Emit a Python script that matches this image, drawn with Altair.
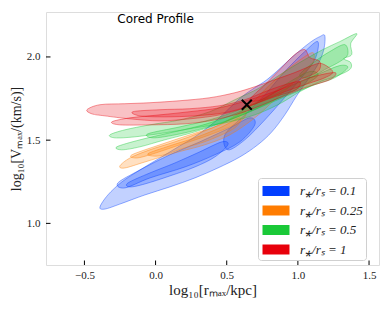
import altair as alt
import pandas as pd

SERIES = ["r⁎/rₛ = 0.1", "r⁎/rₛ = 0.25", "r⁎/rₛ = 0.5", "r⁎/rₛ = 1"]
COLORS = ["#023eff", "#ff7c00", "#1ac938", "#e8000b"]

X_TICKS = [-0.5, 0.0, 0.5, 1.0, 1.5]
Y_TICKS = [1.0, 1.5, 2.0]

# ---- blue (r*/rs = 0.1) contours
BLUE_A_X = [-0.391, -0.335, -0.237, -0.110, 0.030, 0.171, 0.276, 0.416, 0.522, 0.606, 0.697, 0.782, 0.873, 0.964, 1.084, 1.154, 1.189,
            1.182, 1.140, 1.070, 0.992, 0.908, 0.817, 0.718, 0.592, 0.438, 0.276, 0.100, -0.075, -0.251, -0.356]
BLUE_A_Y = [1.098, 1.171, 1.249, 1.321, 1.393, 1.466, 1.520, 1.610, 1.695, 1.761, 1.815, 1.863, 1.930, 2.002, 2.086, 2.122, 2.128,
            2.044, 1.954, 1.863, 1.767, 1.652, 1.550, 1.472, 1.399, 1.333, 1.273, 1.219, 1.171, 1.116, 1.086]
BLUE_B_X = [-0.265, -0.110, 0.100, 0.311, 0.522, 0.662, 0.697, 0.592, 0.416, 0.206, -0.040, -0.216]
BLUE_B_Y = [1.243, 1.321, 1.412, 1.490, 1.574, 1.634, 1.592, 1.490, 1.412, 1.339, 1.273, 1.213]
BLUE_C_X = [-0.194, -0.040, 0.136, 0.311, 0.466, 0.508, 0.416, 0.276, 0.100, -0.075, -0.180]
BLUE_C_Y = [1.243, 1.303, 1.363, 1.430, 1.490, 1.472, 1.399, 1.339, 1.285, 1.237, 1.219]
BLUE_D_X = [0.487, 0.627, 0.768, 0.908, 1.048, 1.140, 1.119, 1.013, 0.894, 0.768, 0.627, 0.508]
BLUE_D_Y = [1.532, 1.652, 1.773, 1.912, 2.032, 2.092, 1.984, 1.863, 1.743, 1.622, 1.502, 1.442]

# ---- orange (r*/rs = 0.25) contours
ORANGE_A_X = [-0.251, -0.180, -0.040, 0.136, 0.311, 0.487, 0.662, 0.803, 0.943, 1.070, 1.112,
              1.098, 0.978, 0.838, 0.697, 0.522, 0.346, 0.136, -0.075, -0.216]
ORANGE_A_Y = [1.345, 1.393, 1.442, 1.490, 1.544, 1.610, 1.713, 1.833, 1.936, 2.014, 2.020,
              1.954, 1.851, 1.743, 1.634, 1.532, 1.472, 1.424, 1.369, 1.333]
ORANGE_B_X = [-0.166, 0.030, 0.241, 0.452, 0.627, 0.592, 0.381, 0.171, -0.040, -0.138]
ORANGE_B_Y = [1.412, 1.472, 1.532, 1.592, 1.671, 1.610, 1.532, 1.472, 1.412, 1.393]
ORANGE_C_X = [-0.054, 0.100, 0.276, 0.452, 0.592, 0.557, 0.381, 0.206, 0.030]
ORANGE_C_Y = [1.418, 1.466, 1.514, 1.574, 1.634, 1.574, 1.502, 1.454, 1.406]

# ---- green (r*/rs = 0.5) contours
GREEN_A_X = [-0.321, -0.216, -0.040, 0.171, 0.381, 0.557, 0.732, 0.908, 1.048, 1.175, 1.294, 1.413,
             1.371, 1.378, 1.322, 1.371, 1.364, 1.259, 1.154, 1.013, 0.873, 0.697, 0.487, 0.276, 0.065, -0.145, -0.286]
GREEN_A_Y = [1.532, 1.562, 1.592, 1.622, 1.671, 1.743, 1.815, 1.912, 1.984, 2.044, 2.092, 2.140,
             2.080, 2.014, 1.990, 1.966, 1.924, 1.881, 1.851, 1.791, 1.719, 1.652, 1.604, 1.574, 1.544, 1.520, 1.514]
GREEN_B_X = [-0.272, -0.110, 0.100, 0.311, 0.522, 0.732, 0.943, 1.154, 1.294, 1.350,
             1.259, 1.119, 0.908, 0.697, 0.487, 0.276, 0.065, -0.110, -0.237]
GREEN_B_Y = [1.460, 1.502, 1.544, 1.586, 1.646, 1.731, 1.821, 1.900, 1.948, 1.936,
             1.875, 1.833, 1.761, 1.683, 1.610, 1.550, 1.502, 1.460, 1.442]
GREEN_C_X = [-0.054, 0.171, 0.381, 0.592, 0.768, 0.943, 1.084, 1.140, 1.013, 0.838, 0.627, 0.416, 0.206, -0.005]
GREEN_C_Y = [1.538, 1.580, 1.622, 1.683, 1.755, 1.851, 1.912, 1.887, 1.815, 1.743, 1.658, 1.592, 1.544, 1.514]
GREEN_D_X = [1.013, 1.119, 1.224, 1.329, 1.350, 1.294, 1.189, 1.084]
GREEN_D_Y = [1.893, 1.972, 2.032, 2.074, 2.014, 1.972, 1.924, 1.875]

# ---- red (r*/rs = 1) contours
RED_A_X = [-0.482, -0.391, -0.216, -0.040, 0.171, 0.381, 0.557, 0.697, 0.838, 0.978, 1.098, 1.168, 1.245,
           1.189, 1.048, 0.908, 0.768, 0.627, 0.452, 0.241, 0.030, -0.180, -0.356, -0.447]
RED_A_Y = [1.683, 1.713, 1.719, 1.725, 1.737, 1.755, 1.785, 1.821, 1.863, 1.906, 1.948, 1.960, 1.912,
           1.875, 1.833, 1.791, 1.743, 1.695, 1.652, 1.628, 1.616, 1.628, 1.646, 1.658]
RED_B_X = [-0.307, -0.180, 0.030, 0.241, 0.452, 0.662, 0.873, 1.084, 1.259,
           1.224, 1.048, 0.838, 0.627, 0.416, 0.206, -0.040, -0.251]
RED_B_Y = [1.610, 1.634, 1.652, 1.671, 1.695, 1.743, 1.803, 1.875, 1.906,
           1.863, 1.815, 1.743, 1.671, 1.622, 1.598, 1.592, 1.592]
RED_C_X = [-0.159, 0.030, 0.241, 0.452, 0.627, 0.768, 0.908, 1.013, 0.985, 0.838, 0.662, 0.487, 0.276, 0.065, -0.110]
RED_C_Y = [1.671, 1.683, 1.689, 1.707, 1.743, 1.791, 1.833, 1.851, 1.803, 1.761, 1.707, 1.665, 1.646, 1.640, 1.646]
RED_D_X = [0.662, 0.768, 0.873, 0.978, 1.048, 1.084, 1.154, 1.140, 1.013, 0.873, 0.747]
RED_D_Y = [1.743, 1.833, 1.924, 2.014, 2.044, 1.996, 1.972, 1.912, 1.863, 1.803, 1.743]

# ---- best-fit marker and annotation
MARK_X = [0.641]
MARK_Y = [1.713]
TITLE_TEXT = ["Cored Profile"]
TITLE_X = [0.0]
TITLE_Y = [2.225]

POLYS = [
    (SERIES[0], "b_a", BLUE_A_X, BLUE_A_Y),
    (SERIES[0], "b_b", BLUE_B_X, BLUE_B_Y),
    (SERIES[0], "b_d", BLUE_D_X, BLUE_D_Y),
    (SERIES[0], "b_c", BLUE_C_X, BLUE_C_Y),
    (SERIES[1], "o_a", ORANGE_A_X, ORANGE_A_Y),
    (SERIES[1], "o_b", ORANGE_B_X, ORANGE_B_Y),
    (SERIES[1], "o_c", ORANGE_C_X, ORANGE_C_Y),
    (SERIES[2], "g_a", GREEN_A_X, GREEN_A_Y),
    (SERIES[2], "g_b", GREEN_B_X, GREEN_B_Y),
    (SERIES[2], "g_d", GREEN_D_X, GREEN_D_Y),
    (SERIES[2], "g_c", GREEN_C_X, GREEN_C_Y),
    (SERIES[3], "r_a", RED_A_X, RED_A_Y),
    (SERIES[3], "r_b", RED_B_X, RED_B_Y),
    (SERIES[3], "r_d", RED_D_X, RED_D_Y),
    (SERIES[3], "r_c", RED_C_X, RED_C_Y),
]

rows = []
for k, (s, name, xs, ys) in enumerate(POLYS):
    for i, (x, y) in enumerate(zip(xs, ys)):
        rows.append({"series": s, "poly": f"{k:02d}_{name}", "i": i, "x": x, "y": y})
df = pd.DataFrame(rows)

XDOM = [-0.77, 1.57]
YDOM = [0.75, 2.27]
SERIF = "Liberation Serif"

xscale = alt.Scale(domain=XDOM, nice=False, zero=False)
yscale = alt.Scale(domain=YDOM, nice=False, zero=False)
cscale = alt.Scale(domain=SERIES, range=COLORS)

legend = alt.Legend(
    title=None, orient="none", legendX=212, legendY=166,
    symbolType="M-1.35,-0.5L1.35,-0.5L1.35,0.5L-1.35,0.5Z", symbolSize=400,
    symbolStrokeWidth=0, symbolOpacity=1, symbolOffset=5,
    labelFont=SERIF, labelFontStyle="italic", labelFontSize=13, labelColor="#222",
    labelOffset=14, rowPadding=2.5, padding=3, offset=0,
    fillColor="white", strokeColor="#d0d0d0", cornerRadius=3,
)

contours = alt.Chart(df).mark_line(
    interpolate="cardinal-closed", fillOpacity=0.24, strokeOpacity=0.5, strokeWidth=0.8
).encode(
    x=alt.X("x:Q", scale=xscale,
            axis=alt.Axis(values=X_TICKS, format=".1f", ticks=False, domain=False, grid=False,
                          labelFont=SERIF, labelFontSize=11, labelColor="#222", labelPadding=4,
                          title="log₁₀[rₘₐₓ/kpc]", titleFont=SERIF, titleFontSize=15,
                          titleFontWeight="normal", titleColor="#222", titlePadding=2)),
    y=alt.Y("y:Q", scale=yscale,
            axis=alt.Axis(values=Y_TICKS, format=".1f", ticks=False, domain=False, grid=False,
                          labelFont=SERIF, labelFontSize=11, labelColor="#222", labelPadding=6,
                          title="log₁₀[Vₘₐₓ/(km/s)]", titleFont=SERIF, titleFontSize=14,
                          titleFontWeight="normal", titleColor="#222", titlePadding=3)),
    fill=alt.Fill("series:N", scale=cscale, legend=legend),
    stroke=alt.Stroke("series:N", scale=cscale, legend=None),
    detail="poly:N",
    order="i:Q",
)

marker = alt.Chart(pd.DataFrame({"x": MARK_X, "y": MARK_Y})).mark_point(
    shape="M-1,-1L1,1M-1,1L1,-1", size=100, stroke="black", strokeWidth=2, filled=False, opacity=1
).encode(x=alt.X("x:Q", scale=xscale), y=alt.Y("y:Q", scale=yscale))

title = alt.Chart(pd.DataFrame({"t": TITLE_TEXT, "x": TITLE_X, "y": TITLE_Y})).mark_text(
    font="DejaVu Sans", fontSize=12, color="black"
).encode(x=alt.X("x:Q", scale=xscale), y=alt.Y("y:Q", scale=yscale), text="t:N")

xt = alt.Chart(pd.DataFrame({"v": X_TICKS})).mark_rule(color="black", strokeWidth=1).encode(
    x=alt.X("v:Q", scale=xscale), y=alt.value(253), y2=alt.value(248.5))
yt = alt.Chart(pd.DataFrame({"v": Y_TICKS})).mark_rule(color="black", strokeWidth=1).encode(
    y=alt.Y("v:Q", scale=yscale), x=alt.value(0), x2=alt.value(4.5))

chart = alt.layer(contours, marker, title, xt, yt).properties(
    width=333, height=253,
    autosize=alt.AutoSizeParams(type="none"),
    padding={"left": 38, "top": 4, "right": 3, "bottom": 39},
).configure_view(stroke="black", strokeWidth=1.2).configure(background="white")

chart.save("out.html", embed_options={"renderer": "svg", "actions": False})
